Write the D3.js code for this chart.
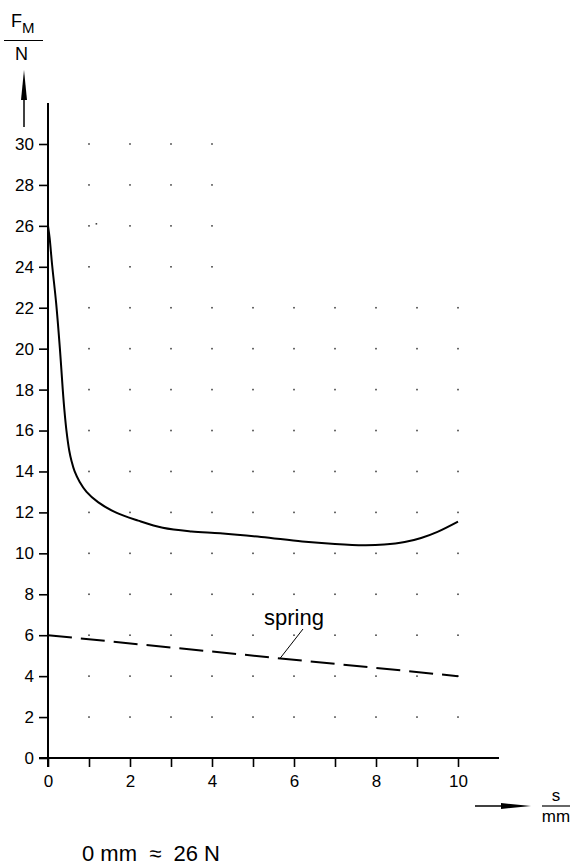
<!DOCTYPE html>
<html>
<head>
<meta charset="utf-8">
<script src="https://cdn.jsdelivr.net/npm/d3@7"></script>
<style>
	body { margin: 0; background: #fff; }
	svg { display: block; font-family: "Liberation Sans", Arial, sans-serif; }
	.axis text { font-size: 17px; fill: #000; }
	.axis line { stroke: #000; stroke-width: 1.6; }
	.axis path { display: none; }
</style>
</head>
<body>
<div id="chart"></div>
<script>
// magnet force over stroke
var strokeMm = [0, 0.04, 0.1, 0.2, 0.29, 0.36, 0.4, 0.45, 0.52, 0.575, 0.65, 0.77, 0.94, 1.22, 1.65, 2.2, 2.8, 3.5, 4.2, 5.2, 6.2, 7.0, 7.7, 8.2, 8.7, 9.1, 9.5, 10];
var forceN   = [26, 25.4, 24.1, 22.2, 20, 18, 17, 16, 15, 14.5, 14, 13.5, 13, 12.5, 12, 11.6, 11.25, 11.07, 10.98, 10.8, 10.58, 10.46, 10.4, 10.43, 10.55, 10.75, 11.05, 11.55];

// return spring
var springMm = [0, 10];
var springN  = [6, 4];

var yTicks = d3.range(0, 31, 2);
var xTicks = d3.range(0, 11, 1);
var xLabels = [0, 2, 4, 6, 8, 10];

// dotted background grid
var gridXFull = d3.range(1, 11);
var gridYFull = d3.range(2, 23, 2);
var gridXTop = [1, 2, 3, 4];
var gridYTop = [24, 26, 28, 30];
var strayDots = [[1.18, 26.1]];

var width = 576, height = 866;
var svg = d3.select("#chart").append("svg")
	.attr("width", width)
	.attr("height", height);

var x = d3.scaleLinear().domain([0, 10]).range([48, 458]);
var y = d3.scaleLinear().domain([0, 30]).range([758, 144]);

// grid dots
var dots = [];
gridYFull.forEach(function(v) { gridXFull.forEach(function(u) { dots.push([u, v]); }); });
gridYTop.forEach(function(v) { gridXTop.forEach(function(u) { dots.push([u, v]); }); });
dots = dots.concat(strayDots);

svg.append("g").selectAll("rect")
	.data(dots)
	.enter().append("rect")
	.attr("x", function(d) { return x(d[0]) - 0.8; })
	.attr("y", function(d) { return y(d[1]) - 0.8; })
	.attr("width", 1.6)
	.attr("height", 1.6)
	.attr("fill", "#444");

// axes
var yAxis = d3.axisLeft(y).tickValues(yTicks).tickSize(9).tickPadding(5);
svg.append("g")
	.attr("class", "axis")
	.attr("transform", "translate(" + x(0) + ",0)")
	.call(yAxis);

var xAxis = d3.axisBottom(x).tickValues(xTicks).tickSize(9).tickPadding(8)
	.tickFormat(function(d) { return xLabels.indexOf(d) >= 0 ? d : ""; });
svg.append("g")
	.attr("class", "axis")
	.attr("transform", "translate(0," + y(0) + ")")
	.call(xAxis);

// axis lines
svg.append("line")
	.attr("x1", x(0)).attr("x2", x(0))
	.attr("y1", 103).attr("y2", y(0) + 9)
	.attr("stroke", "#000").attr("stroke-width", 2);
svg.append("line")
	.attr("x1", x(0) - 9).attr("x2", 499)
	.attr("y1", y(0)).attr("y2", y(0))
	.attr("stroke", "#000").attr("stroke-width", 2);

// arrows
svg.append("line")
	.attr("x1", 24).attr("x2", 24).attr("y1", 127).attr("y2", 95)
	.attr("stroke", "#000").attr("stroke-width", 1.5);
svg.append("path")
	.attr("d", "M24,70L27,100L21,100Z")
	.attr("fill", "#000");

svg.append("line")
	.attr("x1", 475).attr("x2", 505).attr("y1", 806).attr("y2", 806)
	.attr("stroke", "#000").attr("stroke-width", 1.5);
svg.append("path")
	.attr("d", "M531,806L501,803L501,809Z")
	.attr("fill", "#000");

// axis titles as fractions
var yTitle = svg.append("g").attr("font-size", 18);
yTitle.append("text").attr("x", 11).attr("y", 27).text("F");
yTitle.append("text").attr("x", 22).attr("y", 33).attr("font-size", 15).text("M");
yTitle.append("line")
	.attr("x1", 4).attr("x2", 43).attr("y1", 40.5).attr("y2", 40.5)
	.attr("stroke", "#000").attr("stroke-width", 1.2);
yTitle.append("text").attr("x", 21.5).attr("y", 60).attr("text-anchor", "middle").text("N");

var xTitle = svg.append("g").attr("font-size", 17).attr("text-anchor", "middle");
xTitle.append("text").attr("x", 556).attr("y", 801).text("s");
xTitle.append("line")
	.attr("x1", 542).attr("x2", 570).attr("y1", 806).attr("y2", 806)
	.attr("stroke", "#000").attr("stroke-width", 1.2);
xTitle.append("text").attr("x", 556).attr("y", 822).text("mm");

// force curve
var forceLine = d3.line()
	.x(function(d) { return x(d[0]); })
	.y(function(d) { return y(d[1]); })
	.curve(d3.curveCatmullRom.alpha(0.5));

svg.append("path")
	.datum(d3.zip(strokeMm, forceN))
	.attr("d", forceLine)
	.attr("fill", "none")
	.attr("stroke", "#000")
	.attr("stroke-width", 2);

// spring line
svg.append("path")
	.datum(d3.zip(springMm, springN))
	.attr("d", d3.line().x(function(d) { return x(d[0]); }).y(function(d) { return y(d[1]); }))
	.attr("fill", "none")
	.attr("stroke", "#000")
	.attr("stroke-width", 2)
	.attr("stroke-dasharray", "24,9");

// spring label with leader
var leadS = 5.66;
var leadF = springN[0] + (springN[1] - springN[0]) * leadS / 10;
svg.append("line")
	.attr("x1", x(leadS)).attr("y1", y(leadF))
	.attr("x2", 303).attr("y2", 629)
	.attr("stroke", "#000").attr("stroke-width", 1);
svg.append("text")
	.attr("x", 294).attr("y", 625)
	.attr("text-anchor", "middle")
	.attr("font-size", 22)
	.text("spring");

svg.append("text")
	.attr("x", 82).attr("y", 861)
	.attr("font-size", 22)
	.attr("xml:space", "preserve")
	.text("0 mm  \u2248  26 N");
</script>
</body>
</html>
